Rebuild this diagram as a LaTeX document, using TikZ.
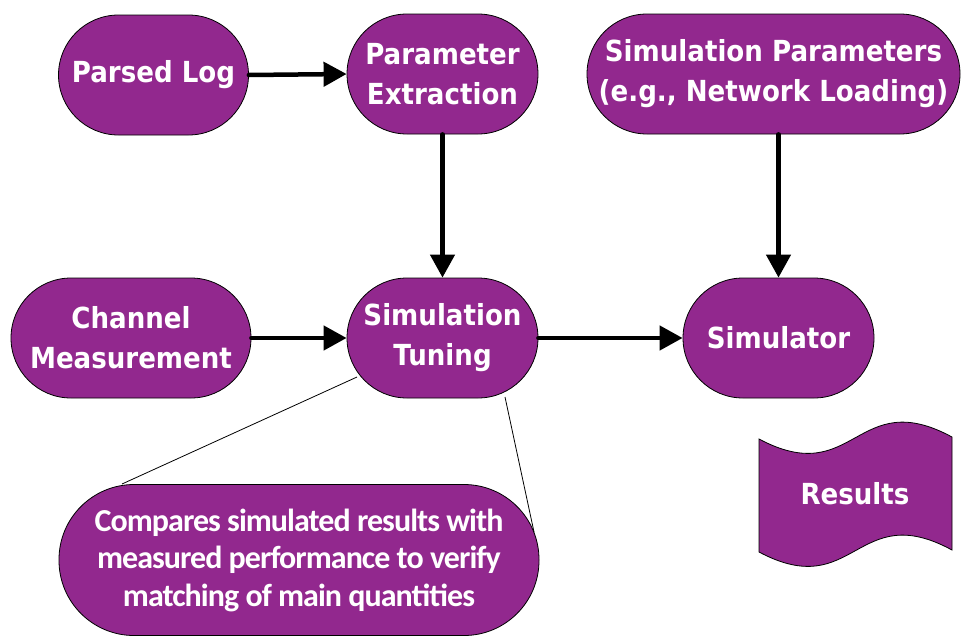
\documentclass[tikz,border=0pt]{standalone}
\usepackage{fontspec}
\setmainfont{DejaVu Sans}
\newfontfamily\labfont{DejaVu Sans}[FakeStretch=0.9]
\newfontfamily\notefont{Carlito}[LetterSpace=-3]
\usetikzlibrary{arrows.meta}
\definecolor{nodepurple}{HTML}{92288E}
\begin{document}
\begin{tikzpicture}[x=1pt,y=-1pt,
  box/.style={draw=black, line width=0.8pt, fill=nodepurple, text=white,
    rounded corners=60pt, minimum height=120pt, align=center, inner sep=0pt,
    font=\labfont\bfseries\fontsize{29}{40}\selectfont},
  flow/.style={line width=4.5pt, line cap=round, -{Triangle[width=24pt,length=23pt]}},
  callline/.style={line width=0.8pt}]
\useasboundingbox (0,0) rectangle (965,635);
\node[box, minimum width=190pt] (PL) at (153.5,75) {Parsed Log};
\node[box, minimum width=191pt] (PE) at (442.5,74) {Parameter\\Extraction};
\node[box, minimum width=373pt] (SP) at (773.5,74) {Simulation Parameters\\(e.g., Network Loading)};
\node[box, minimum width=240pt] (CM) at (131,338) {Channel\\Measurement};
\node[box, minimum width=191pt] (ST) at (442.5,338) {Simulation\\Tuning};
\node[box, minimum width=191pt] (SIM) at (778.5,338) {Simulator};
\node[box, minimum width=480pt, minimum height=151pt, rounded corners=75pt,
  font=\notefont\bfseries\fontsize{32}{37.5}\selectfont] (CO) at (299,560)
  {Compares simulated results with\\measured performance to verify\\matching of main quantities};
\draw[draw=black, line width=0.8pt, fill=nodepurple]
  (759,439) .. controls (855,490) and (856,385) .. (952,437)
  -- (952,550) .. controls (856,498) and (855,603) .. (759,552) -- cycle;
\node[text=white, font=\labfont\bfseries\fontsize{29}{40}\selectfont] (RES) at (855,494) {Results};
\coordinate (c1) at (357,377);
\coordinate (c2) at (122,484);
\coordinate (c3) at (505,397);
\coordinate (c4) at (534,532);
\draw[callline] (c1) -- (c2);
\draw[callline] (c3) -- (c4);
\draw[flow] (PL.east) -- (PE.west);
\draw[flow] (PE.south) -- (ST.north);
\draw[flow] (SP.south -| SIM.north) -- (SIM.north);
\draw[flow] (CM.east) -- (ST.west);
\draw[flow] (ST.east) -- (SIM.west);
\end{tikzpicture}
\end{document}
